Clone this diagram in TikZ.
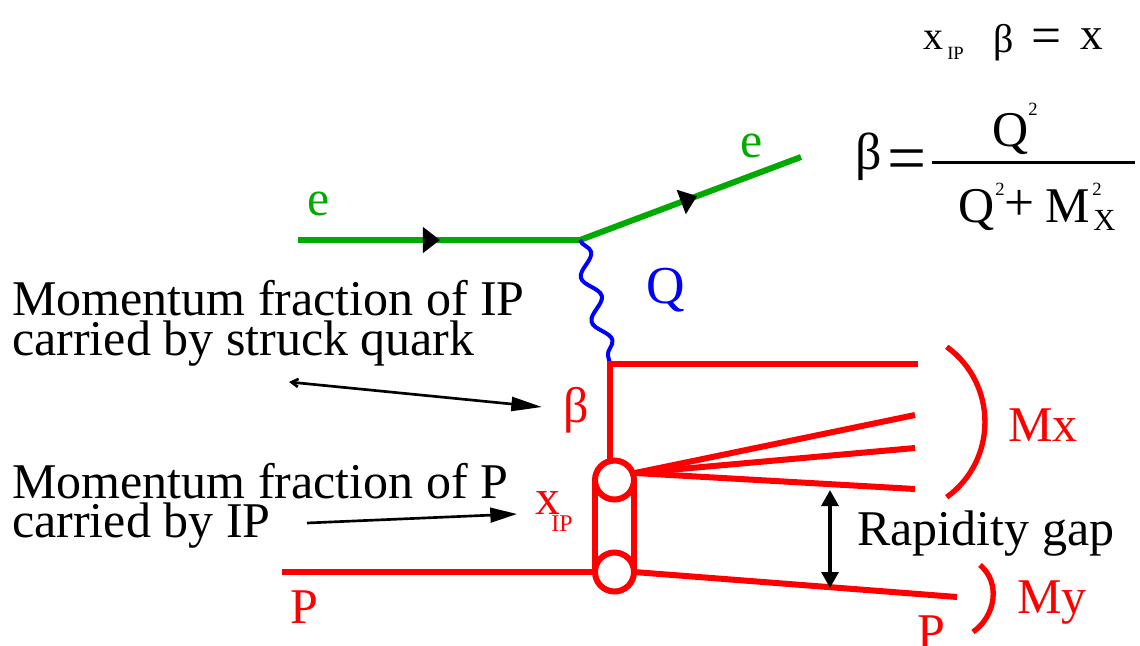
\documentclass[tikz,border=0pt]{standalone}
\usepackage{fontspec}
\setmainfont{LiberationSerif}[Extension=.ttf,UprightFont=*-Regular,BoldFont=*-Bold,ItalicFont=*-Italic]
\usetikzlibrary{decorations.pathmorphing,decorations.markings,arrows.meta}
\definecolor{egreen}{RGB}{0,170,0}
\definecolor{pred}{RGB}{255,0,0}
\definecolor{gblue}{RGB}{0,0,255}
\newcommand{\fs}[1]{\fontsize{#1}{#1}\selectfont}
\begin{document}
\begin{tikzpicture}[x=0.75pt,y=-0.75pt,
  lbl/.style={anchor=base west,inner sep=0pt,font=\fs{37.5}},
  redlbl/.style={lbl,text=pred},
  eline/.style={egreen,line width=4.5pt,postaction={decorate,decoration={markings,
      mark=at position #1 with {\arrow[black]{Triangle[length=12.75pt,width=18.75pt]}}}}},
  pline/.style={pred,line width=4.5pt},
  blob/.style={circle,draw=pred,line width=4.5pt,minimum size=29.25pt,inner sep=0pt,outer sep=0pt},
  photon/.style={gblue,line width=3pt,decorate,decoration={snake,amplitude=6pt,segment length=34pt}},
  pointer/.style={black,line width=2pt},
  arcline/.style={pred,line width=4pt},
  ]
\useasboundingbox (0,0) rectangle (1140,646);
% vertices
\coordinate (ein) at (298,240);
\coordinate (vtx) at (580,240);
\coordinate (eout) at (801,157);
\coordinate (pv) at (610,364);
\coordinate (q1end) at (915,364);
\coordinate (f1) at (915,415);
\coordinate (f2) at (915,448);
\coordinate (f3) at (915,489);
\coordinate (pin) at (282,572);
\coordinate (pout) at (957,597);
\node[blob] (c1) at (614.5,480) {};
\node[blob] (c2) at (614.5,572) {};
\coordinate (fan) at (635,473);
% electron lines
\draw[eline=0.5035] (ein) -- (vtx);
\draw[eline=0.53] (vtx) -- (eout);
% photon
\draw[photon] (vtx) -- (pv);
% quark lines
\draw[pline,line cap=rect] (q1end) -- (pv) -- (pv |- c1.north);
\draw[pline] (fan) -- (f1);
\draw[pline] (fan) -- (f2);
\draw[pline] (fan) -- (f3);
\draw[pline] (c1.west) -- (c2.west);
\draw[pline] (c1.east) -- (c2.east);
\draw[pline] (pin) -- (c2.west);
\draw[pline] (c2.east) -- (pout);
% arcs
\draw[arcline] (946.7,346.8) .. controls (997.7,383.8) and (997.7,460.2) .. (946.7,497.2);
\draw[arcline] (980,565) .. controls (1001.1,582.7) and (995.6,616.2) .. (973,632);
% rapidity gap arrow
\coordinate (gtop) at (830,490);
\coordinate (gbot) at (830,588);
\draw[black,line width=3pt,{Triangle[length=12pt,width=12.5pt]}-{Triangle[length=12pt,width=12.5pt]}] (gtop) -- (gbot);
% pointers
\coordinate (ba1) at (289,382);
\coordinate (ba2) at (542,407);
\draw[pointer,{Straight Barb[length=5pt,width=6pt]}-{Triangle[length=23pt,width=10.5pt]}] (ba1) -- (ba2);
\coordinate (xa1) at (307,523);
\coordinate (xa2) at (517,514);
\draw[pointer,-{Triangle[length=20pt,width=11pt]}] (xa1) -- (xa2);
% labels
\node[lbl] (m1a) at (12,315) {Momentum fraction of IP};
\node[lbl] (m1b) at (12,355) {carried by struck quark};
\node[lbl] (m2a) at (12,498) {Momentum fraction of P};
\node[lbl] (m2b) at (12,537) {carried by IP};
\node[lbl] (rg) at (857,545) {Rapidity gap};
\node[lbl,text=egreen] (el) at (307,215) {e};
\node[lbl,text=egreen] (er) at (740,157) {e};
\node[lbl,text=gblue,font=\fs{40}] (ql) at (646,303) {Q};
\node[redlbl] (bl) at (563,422) {β};
\node[redlbl] (xl) at (535,514) {x};
\node[redlbl,font=\fs{18}] (xsub) at (551,531) {IP};
\node[redlbl] (mxl) at (1008,441) {Mx};
\node[redlbl] (pl) at (290,623) {P};
\node[redlbl] (pr) at (917,648) {P};
\node[redlbl] (myl) at (1017,613) {My};
% formula 1
\node[lbl,font=\fs{30}] (fx1) at (923,50) {x};
\node[lbl,font=\fs{14}] (fip) at (947,60) {IP};
\node[lbl,font=\fs{30}] (fb1) at (993,52) {β};
\node[lbl,font=\fs{40}] (feq1) at (1031,53) {=};
\node[lbl,font=\fs{34}] (fx2) at (1080,50) {x};
% formula 2
\node[lbl,font=\fs{39}] (fb2) at (855,169) {β};
\node[lbl,font=\fs{52}] (feq2) at (887,181) {=};
\draw[black,line width=2.25pt] (932,162) -- (1135,162);
\node[lbl] (fq1) at (992,146) {Q};
\node[lbl,font=\fs{14}] (fq1s) at (1028,115) {2};
\node[lbl] (fq2) at (958,222) {Q};
\node[lbl,font=\fs{14}] (fq2s) at (995,195) {2};
\node[anchor=center,inner sep=0pt,font=\fs{40}] (fplus) at (1020,205) {+};
\node[lbl] (fm) at (1045,222) {M};
\node[lbl,font=\fs{14}] (fms) at (1092,195) {2};
\node[lbl,font=\fs{23}] (fmx) at (1093,230) {X};
\end{tikzpicture}
\end{document}
